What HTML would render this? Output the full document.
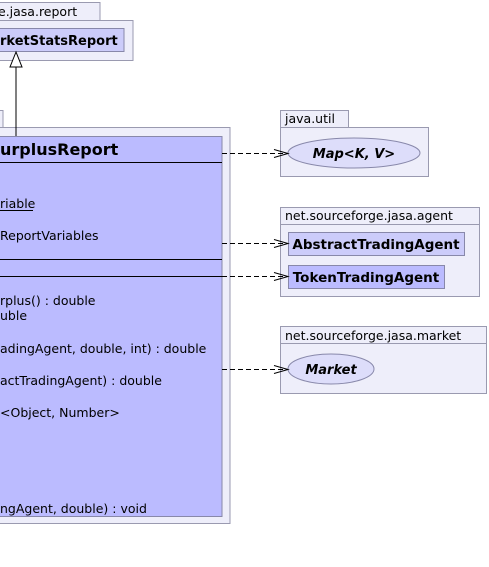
<!DOCTYPE html>
<html><head><style>
body{margin:0;background:#fff;width:489px;height:562px;overflow:hidden}
svg text{font-family:"DejaVu Sans","Liberation Sans",sans-serif;font-size:12.5px;fill:#000}
</style></head><body>
<svg width="489" height="562" xmlns="http://www.w3.org/2000/svg">
<g stroke="#9a9ab0" fill="#eeeefa" stroke-width="1">
<rect x="-1" y="2.5" width="101" height="18"/>
<rect x="-1" y="20.5" width="134" height="40"/>
<rect x="-1" y="110.5" width="4" height="17"/>
<rect x="-1" y="127.5" width="231" height="396"/>
<rect x="280.5" y="110.5" width="68" height="17"/>
<rect x="280.5" y="127.5" width="148" height="49"/>
<rect x="280.5" y="207.5" width="199" height="17"/>
<rect x="280.5" y="224.5" width="199" height="72"/>
<rect x="280.5" y="326.5" width="206" height="17"/>
<rect x="280.5" y="343.5" width="206" height="50"/>
</g>
<text x="-2" y="16">e.jasa.report</text>
<text x="285" y="123">java.util</text>
<text x="285" y="220">net.sourceforge.jasa.agent</text>
<text x="285" y="340">net.sourceforge.jasa.market</text>
<rect x="-1" y="28.5" width="125" height="23" fill="#ccccfa" stroke="#8888aa"/>
<text x="0" y="45" font-weight="bold" style="font-size:13px">rketStatsReport</text>
<line x1="16" y1="67" x2="16" y2="136" stroke="#000"/>
<polygon points="16,52 10,67 22,67" fill="#fff" stroke="#000"/>
<rect x="-1" y="136.5" width="223" height="380" fill="#bbbbff" stroke="#8888aa"/>
<text x="0" y="155" font-weight="bold" style="font-size:16px">urplusReport</text>
<g stroke="#000"><line x1="0" y1="162.5" x2="222" y2="162.5"/><line x1="0" y1="259.5" x2="222" y2="259.5"/><line x1="0" y1="276.5" x2="222" y2="276.5"/></g>
<text x="0" y="208">riable</text><line x1="0" y1="210.5" x2="33" y2="210.5" stroke="#000"/>
<text x="0" y="240">ReportVariables</text>
<text x="0" y="305">rplus() : double</text>
<text x="0" y="320">uble</text>
<text x="0" y="353">adingAgent, double, int) : double</text>
<text x="0" y="385">actTradingAgent) : double</text>
<text x="0" y="417">&lt;Object, Number&gt;</text>
<text x="0" y="513">ngAgent, double) : void</text>
<ellipse cx="354" cy="153" rx="66" ry="15" fill="#ddddfa" stroke="#8888aa"/>
<text x="354" y="158" text-anchor="middle" font-weight="bold" font-style="italic" style="font-size:13px">Map&lt;K, V&gt;</text>
<rect x="288.5" y="232.5" width="176" height="23" fill="#ccccfa" stroke="#8888aa"/>
<text x="376" y="249" text-anchor="middle" font-weight="bold" style="font-size:13.5px">AbstractTradingAgent</text>
<rect x="288.5" y="265.5" width="156" height="23" fill="#bbbbff" stroke="#8888aa"/>
<text x="366" y="282" text-anchor="middle" font-weight="bold" style="font-size:13.5px">TokenTradingAgent</text>
<ellipse cx="331" cy="369" rx="43" ry="15" fill="#ddddfa" stroke="#8888aa"/>
<text x="331" y="374" text-anchor="middle" font-weight="bold" font-style="italic" style="font-size:13px">Market</text>
<g stroke="#000" fill="none" stroke-dasharray="5,3">
<line x1="222" y1="153.5" x2="287" y2="153.5"/>
<line x1="222" y1="243.5" x2="287" y2="243.5"/>
<line x1="222" y1="276.5" x2="287" y2="276.5"/>
<line x1="222" y1="369.5" x2="287" y2="369.5"/>
</g>
<g stroke="#000" fill="none">
<polyline points="274,149.5 288,153.5 274,157.5"/>
<polyline points="274,239.5 288,243.5 274,247.5"/>
<polyline points="274,272.5 288,276.5 274,280.5"/>
<polyline points="274,365.5 288,369.5 274,373.5"/>
</g>
</svg>
</body></html>
